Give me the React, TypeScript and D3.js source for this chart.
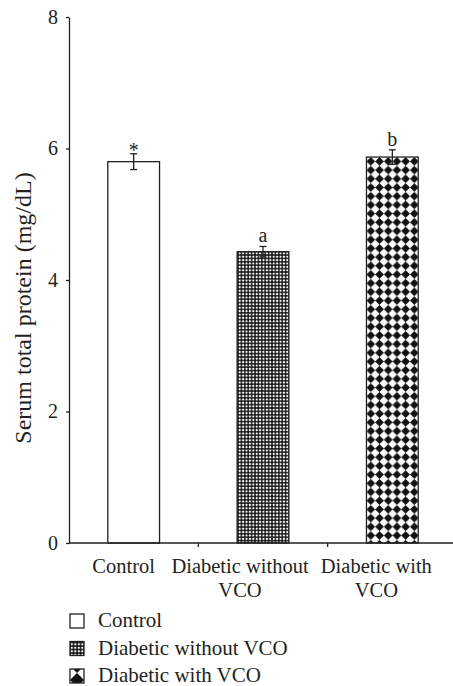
import React, { useEffect, useRef } from 'react';
import * as d3 from 'd3';

// groups, values
const groups = ['Control', 'Diabetic without VCO', 'Diabetic with VCO'];
const axisLabels = [['Control'], ['Diabetic without', 'VCO'], ['Diabetic with', 'VCO']];
const means = [5.8, 4.43, 5.87];
const errors = [0.12, 0.08, 0.11];
const signif = ['*', 'a', 'b'];
const yTicks = [0, 2, 4, 6, 8];

const W = 453;
const H = 686;
const margin = { left: 69, top: 17, bottom: 543, right: 457 };
const font = '"Liberation Serif", "Times New Roman", serif';
const ink = '#231f20';
const fills = ['#ffffff', 'url(#gridFill)', 'url(#diamondFill)'];
const labelShift = [-10, -23, -16];

function App() {
    const yAxisRef = useRef<SVGGElement>(null);

    const x = d3.scaleBand<string>()
        .domain(groups)
        .range([margin.left, margin.right])
        .paddingInner(0)
        .paddingOuter(0);

    const y = d3.scaleLinear()
        .domain([0, 8])
        .range([margin.bottom, margin.top]);

    const barW = x.bandwidth() * 0.4;
    const h = 4.35; // half diagonal of a diamond

    useEffect(() => {
        const g = d3.select(yAxisRef.current);
        g.selectAll('*').remove();
        g.call(d3.axisLeft(y).tickValues(yTicks).tickSize(3).tickSizeOuter(0).tickPadding(8));
        g.select('.domain').attr('stroke', ink).attr('stroke-width', 1.3);
        g.selectAll('.tick line').attr('stroke', ink).attr('stroke-width', 1.3);
        g.selectAll('.tick text')
            .attr('font-family', font)
            .attr('font-size', 20)
            .attr('fill', ink);
    }, []);

    const bar3x = (x(groups[2]) as number) + (x.bandwidth() - barW) / 2;
    const bar3y = y(means[2]);
    const legendTop = 614;
    const legendStep = 27.5;

    return (
        <svg width={W} height={H} style={{ position: 'absolute', left: 0, top: 0, background: '#fff' }}>
            <defs>
                <pattern id="gridFill" patternUnits="userSpaceOnUse" width={3.4} height={3.4}>
                    <rect width={3.4} height={3.4} fill="#111" />
                    <rect x={0.7} y={0.7} width={2} height={2} fill="#fff" />
                </pattern>
                <pattern id="diamondFill" patternUnits="userSpaceOnUse" x={bar3x} y={bar3y} width={2 * h} height={2 * h}>
                    <rect width={2 * h} height={2 * h} fill="#fff" />
                    <polygon points={`${h},0 ${2 * h},${h} ${h},${2 * h} 0,${h}`} fill="#111" />
                </pattern>
                <pattern id="gridIcon" patternUnits="userSpaceOnUse" x={70} y={legendTop + legendStep} width={3.5} height={3.5}>
                    <rect width={3.5} height={3.5} fill="#111" />
                    <rect x={0.8} y={0.8} width={2} height={2} fill="#fff" />
                </pattern>
                <pattern id="hourglassIcon" patternUnits="userSpaceOnUse" x={70} y={legendTop + 2 * legendStep} width={14} height={14}>
                    <rect width={14} height={14} fill="#fff" />
                    <polygon points="0,0 14,0 7,7" fill="#111" />
                    <polygon points="0,14 14,14 7,7" fill="#111" />
                </pattern>
            </defs>

            {/* bars */}
            {groups.map((gname, i) => {
                const bx = (x(gname) as number) + (x.bandwidth() - barW) / 2;
                return (
                    <rect key={gname} x={bx} y={y(means[i])} width={barW}
                        height={y(0) - y(means[i])} fill={fills[i]}
                        stroke={ink} strokeWidth={1.3} />
                );
            })}

            {/* error bars and letters */}
            {groups.map((gname, i) => {
                const cx = (x(gname) as number) + x.bandwidth() / 2;
                const hi = y(means[i] + errors[i]);
                const lo = y(means[i] - errors[i]);
                return (
                    <g key={gname} stroke={ink} strokeWidth={1.3}>
                        <line x1={cx} x2={cx} y1={hi} y2={lo} />
                        <line x1={cx - 3.5} x2={cx + 3.5} y1={hi} y2={hi} />
                        <line x1={cx - 3.5} x2={cx + 3.5} y1={lo} y2={lo} />
                        <text x={cx} y={hi - 4 + (signif[i] === '*' ? 7 : 0)} textAnchor="middle"
                            stroke="none" fill={ink} fontFamily={font} fontSize={20}>
                            {signif[i]}
                        </text>
                    </g>
                );
            })}

            {/* x axis */}
            <line x1={margin.left} x2={W} y1={y(0)} y2={y(0)} stroke={ink} strokeWidth={1.3} />
            {groups.slice(1).map(gname => (
                <line key={gname} x1={x(gname)} x2={x(gname)} y1={y(0)} y2={y(0) + 4}
                    stroke={ink} strokeWidth={1.3} />
            ))}
            {axisLabels.map((lines, i) => (
                <text key={i} fontFamily={font} fontSize={20.5} fill={ink} textAnchor="middle">
                    {lines.map((ln, j) => (
                        <tspan key={j} x={(x(groups[i]) as number) + x.bandwidth() / 2 + labelShift[i]}
                            y={y(0) + 30 + j * 24}>{ln}</tspan>
                    ))}
                </text>
            ))}

            {/* y axis */}
            <g ref={yAxisRef} transform={`translate(${margin.left},0)`} />
            <text transform={`translate(31,308) rotate(-90)`}
                textAnchor="middle" fontFamily={font} fontSize={24} fill={ink}>
                Serum total protein (mg/dL)
            </text>

            {/* legend */}
            {groups.map((gname, i) => (
                <g key={gname} transform={`translate(70,${legendTop + i * legendStep})`}>
                    <rect width={14} height={14}
                        fill={i === 0 ? '#fff' : i === 1 ? 'url(#gridIcon)' : 'url(#hourglassIcon)'}
                        stroke={ink} strokeWidth={1.3} />
                    <text x={28} y={13} fontFamily={font} fontSize={21} fill={ink}>{gname}</text>
                </g>
            ))}
        </svg>
    );
}

export default App;
